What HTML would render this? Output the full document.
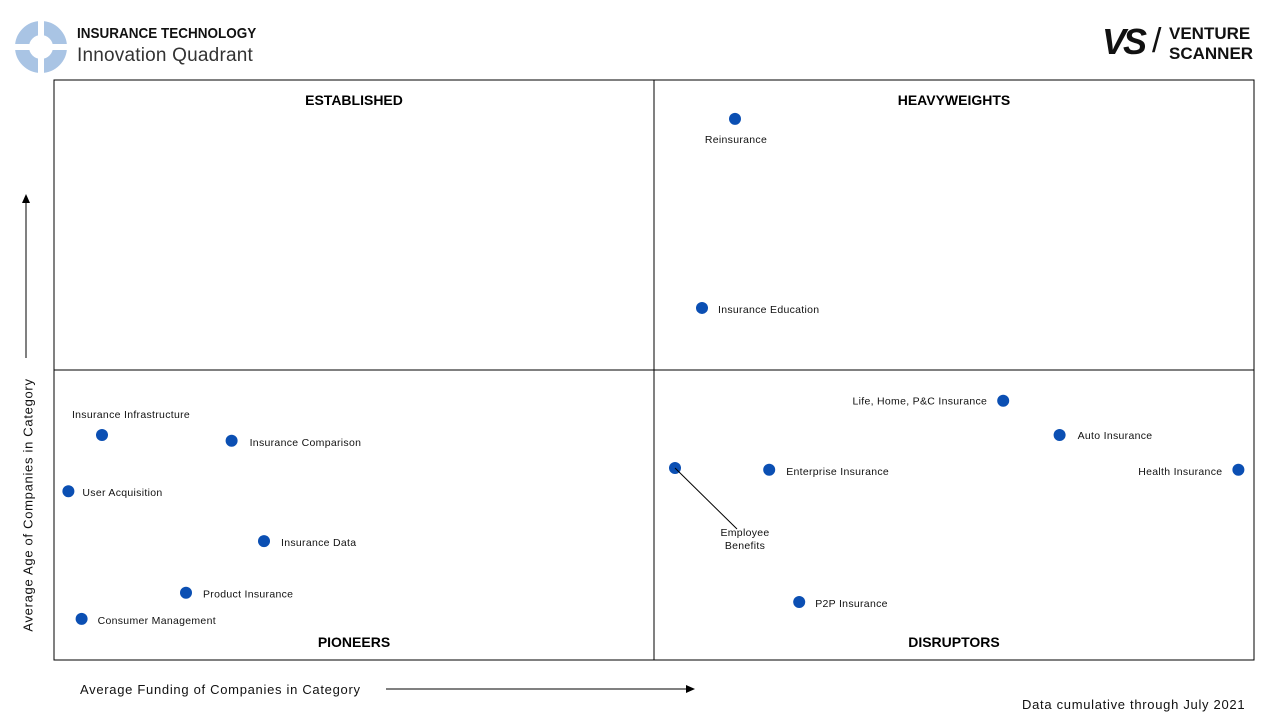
<!DOCTYPE html>
<html><head><meta charset="utf-8"><style>
body{margin:0;width:1280px;height:720px;background:#fff;font-family:"Liberation Sans",sans-serif;overflow:hidden;position:relative}
.t{position:absolute;white-space:nowrap;color:#111}
</style></head><body>
<svg style="position:absolute;left:14px;top:20px" width="54" height="54" viewBox="0 0 54 54">
<circle cx="27" cy="27" r="19" fill="none" stroke="#a9c4e4" stroke-width="14"/>
<rect x="24" y="0" width="6" height="54" fill="#fff"/><rect x="0" y="24" width="54" height="6" fill="#fff"/>
</svg>
<div class="t" style="left:77px;top:25px;font-weight:bold;font-size:15px;transform:scaleX(0.9);transform-origin:left">INSURANCE TECHNOLOGY</div>
<div class="t" style="left:77px;top:45px;font-size:19px;color:#333;letter-spacing:0.2px">Innovation Quadrant</div>
<div style="position:absolute;left:1102px;top:24px">
<span class="t" style="left:0;top:-3px;font-size:36px;font-weight:bold;font-style:italic;letter-spacing:-3px">VS</span>
<span class="t" style="left:50px;top:-2px;font-size:34px">/</span>
<span class="t" style="left:67px;top:0;font-size:17px;font-weight:bold;line-height:20px">VENTURE<br>SCANNER</span>
</div>
<svg id="chart" style="position:absolute;left:0;top:0" width="1280" height="720"></svg>
<div class="t" style="left:28px;top:505px;font-size:13px;letter-spacing:0.7px;transform:translate(-50%,-50%) rotate(-90deg)">Average Age of Companies in Category</div>
<div class="t" style="left:80px;top:682px;font-size:13px;letter-spacing:0.7px">Average Funding of Companies in Category</div>
<div class="t" style="left:1022px;top:697px;font-size:13px;letter-spacing:0.7px">Data cumulative through July 2021</div>
<script>
const names=["Reinsurance","Insurance Education","Life, Home, P&C Insurance","Auto Insurance","Health Insurance","Enterprise Insurance","Employee Benefits","P2P Insurance","Insurance Infrastructure","Insurance Comparison","User Acquisition","Insurance Data","Product Insurance","Consumer Management"];
const funding=[56.75,54,79.1,83.8,98.7,59.6,51.75,62.1,4,14.8,1.2,17.5,11,2.3];
const age=[93.3,60.7,44.7,38.8,32.8,32.8,33.1,10,38.8,37.8,29.1,20.5,11.6,7.1];
const quadrants=["ESTABLISHED","HEAVYWEIGHTS","PIONEERS","DISRUPTORS"];
// label placement (style only): [dx, dy, anchor]
const lab=[[1,24,"middle"],[16,5,"start"],[-16,4,"end"],[18,4,"start"],[-16,5,"end"],[17,5,"start"],[0,0,"none"],[16,5,"start"],[29,-17,"middle"],[18,5,"start"],[14,5,"start"],[17,5,"start"],[17,5,"start"],[16,5,"start"]];
const L=54,R=1254,T=80,B=660;
const sx=v=>L+v/100*(R-L), sy=v=>B-v/100*(B-T);
const svg=document.getElementById('chart'),NS="http://www.w3.org/2000/svg";
function mk(tag,at,p){const e=document.createElementNS(NS,tag);for(const k in at)e.setAttribute(k,at[k]);(p||svg).appendChild(e);return e;}
const box=mk('rect',{x:L,y:T,width:R-L,height:B-T,fill:'none',stroke:'#000','stroke-width':1});


const vl=mk('line',{x1:sx(50),x2:sx(50),y1:T,y2:B,stroke:'#000'});


const hl=mk('line',{x1:L,x2:R,y1:sy(50),y2:sy(50),stroke:'#000'});


const qx=[25,75,25,75],qy=[T+25,T+25,B-13,B-13];
quadrants.forEach((q,i)=>{const t=mk('text',{x:sx(qx[i]),y:qy[i],'text-anchor':'middle','font-size':14,'font-weight':'bold','font-family':'Liberation Sans, sans-serif'});t.textContent=q;

});
mk('line',{x1:26,x2:26,y1:358,y2:200,stroke:'#000'});mk('path',{d:'M22,203 L26,194 L30,203 Z',fill:'#000'});
mk('line',{x1:386,x2:688,y1:689,y2:689,stroke:'#000'});mk('path',{d:'M686,685 L695,689 L686,693 Z',fill:'#000'});
names.forEach((n,i)=>{const x=sx(funding[i]),y=sy(age[i]);
const c=mk('circle',{cx:x,cy:y,r:6,fill:'#0b4fb3'});


const l=lab[i];
if(l[2]==="none"){mk('line',{x1:x,y1:y,x2:x+62,y2:y+61,stroke:'#000','stroke-width':1});
const t=mk('text',{x:x+70,y:y+68,'text-anchor':'middle','font-size':10.5,'letter-spacing':0.3,'font-family':'Liberation Sans, sans-serif',fill:'#111'});
t.innerHTML='<tspan x="'+(x+70)+'">Employee</tspan><tspan x="'+(x+70)+'" dy="13">Benefits</tspan>';

return;}
const t=mk('text',{x:x+l[0],y:y+l[1],'text-anchor':l[2],'font-size':10.5,'letter-spacing':0.3,'font-family':'Liberation Sans, sans-serif',fill:'#111'});
t.textContent=n;

});
</script>
</body></html>
